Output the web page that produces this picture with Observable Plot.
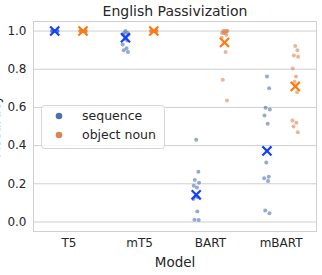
<!DOCTYPE html>
<html><head><meta charset="utf-8">
<script src="https://cdn.jsdelivr.net/npm/d3@7"></script>
<script src="https://cdn.jsdelivr.net/npm/@observablehq/plot@0.6"></script>
<style>
html,body{margin:0;padding:0;background:#fff;}
#chart{position:relative;width:322px;height:275px;overflow:hidden;}
</style></head><body><div id="chart"></div>
<script>
const models = ["T5", "mT5", "BART", "mBART"];
const hues = ["sequence", "object noun"];
const yTicks = [0, 0.2, 0.4, 0.6, 0.8, 1.0];

const t5Seq = [1, 1, 1, 1, 1, 1, 1, 1, 1, 1, 1, 1];
const t5Obj = [1, 1, 1, 1, 1, 1, 1, 1, 1, 1, 1, 1];
const mt5Seq = [1.0, 0.99, 0.99, 0.98, 0.98, 0.97, 0.96, 0.95, 0.93, 0.91, 0.90, 0.89];
const mt5Obj = [1, 1, 1, 1, 1, 1, 1, 1, 1, 1, 1, 1];
const bartSeq = [0.43, 0.263, 0.22, 0.205, 0.19, 0.18, 0.135, 0.13, 0.12, 0.055, 0.012, 0.01];
const bartObj = [1.0, 1.0, 1.0, 1.0, 0.99, 0.99, 0.99, 0.98, 0.965, 0.89, 0.745, 0.636];
const mbartSeq = [0.762, 0.70, 0.598, 0.589, 0.558, 0.515, 0.312, 0.237, 0.229, 0.215, 0.06, 0.046];
const mbartObj = [0.922, 0.90, 0.872, 0.865, 0.804, 0.762, 0.735, 0.68, 0.532, 0.52, 0.50, 0.47];

const seqMeans = [1.0, 0.965, 0.142, 0.372];
const objMeans = [1.0, 1.0, 0.94, 0.71];

// layout (not data): dodge offset per hue and a fixed strip jitter pattern
const dodge = {"sequence": -0.2, "object noun": 0.2};
const jitterPattern = [0.0, 0.03, -0.02, 0.04, -0.035, 0.01, -0.01, 0.025, -0.04, 0.015, -0.025, 0.035];

const groups = [
  [0, "sequence", t5Seq], [0, "object noun", t5Obj],
  [1, "sequence", mt5Seq], [1, "object noun", mt5Obj],
  [2, "sequence", bartSeq], [2, "object noun", bartObj],
  [3, "sequence", mbartSeq], [3, "object noun", mbartObj]
];
const points = [];
for (const [m, hue, vals] of groups) {
  vals.forEach((v, i) => points.push({m, hue, value: v, pos: m + dodge[hue] + jitterPattern[i % jitterPattern.length]}));
}
const means = [];
models.forEach((_, m) => {
  means.push({m, hue: "sequence", value: seqMeans[m], pos: m + dodge["sequence"]});
  means.push({m, hue: "object noun", value: objMeans[m], pos: m + dodge["object noun"]});
});

const pointColor = {"sequence": "#4c72b0", "object noun": "#dd8452"};
const meanColor = {"sequence": "#1440ff", "object noun": "#ff7a0a"};

const plot = Plot.plot({
  width: 322,
  height: 275,
  marginLeft: 33,
  marginRight: 6,
  marginTop: 21,
  marginBottom: 44,
  style: {fontFamily: "DejaVu Sans", fontSize: "12px", color: "#262626", background: "#fff"},
  x: {type: "linear", domain: [-0.5, 3.5]},
  y: {domain: [-0.05, 1.05]},
  marks: [
    Plot.gridY(yTicks, {stroke: "#cfcfcf", strokeOpacity: 1, strokeWidth: 1}),
    Plot.frame({stroke: "#cfcfcf"}),
    Plot.axisY(yTicks, {tickSize: 0, tickPadding: 7, tickFormat: d3.format(".1f"), label: null, fontSize: 12}),
    Plot.axisX([0, 1, 2, 3], {tickSize: 0, tickPadding: 7, tickFormat: i => models[i], label: null, fontSize: 12}),
    Plot.dot(points, {x: "pos", y: "value", r: 2, fill: d => pointColor[d.hue], fillOpacity: 0.6, stroke: null}),
    Plot.dot(means, {x: "pos", y: "value", symbol: "times", r: 4.2, stroke: d => meanColor[d.hue], strokeWidth: 2.2}),
    Plot.text(["English Passivization"], {frameAnchor: "top", dy: -10, lineAnchor: "middle", fontSize: 14}),
    Plot.text(["Model"], {frameAnchor: "bottom", dy: 31, lineAnchor: "middle", fontSize: 13.5})
  ]
});
document.getElementById("chart").appendChild(plot);

const svg = d3.select(plot);
svg.append("text")
  .attr("transform", "translate(-0.5,126) rotate(-90)")
  .attr("text-anchor", "middle")
  .attr("font-size", 13.5)
  .attr("fill", "#262626")
  .text("Accuracy");

const lg = svg.append("g");
lg.append("rect").attr("x", 41.5).attr("y", 105.5).attr("width", 123).attr("height", 43)
  .attr("rx", 3).attr("fill", "#fff").attr("fill-opacity", 0.8).attr("stroke", "#d6d6d6");
hues.forEach((h, i) => {
  const cy = 116 + i * 19;
  lg.append("circle").attr("cx", 59).attr("cy", cy).attr("r", 3.3).attr("fill", pointColor[h]);
  lg.append("text").attr("x", 82).attr("y", cy).attr("dy", "0.35em")
    .attr("text-anchor", "start")
    .attr("font-size", 12.5).attr("fill", "#262626").text(h);
});
</script></body></html>
